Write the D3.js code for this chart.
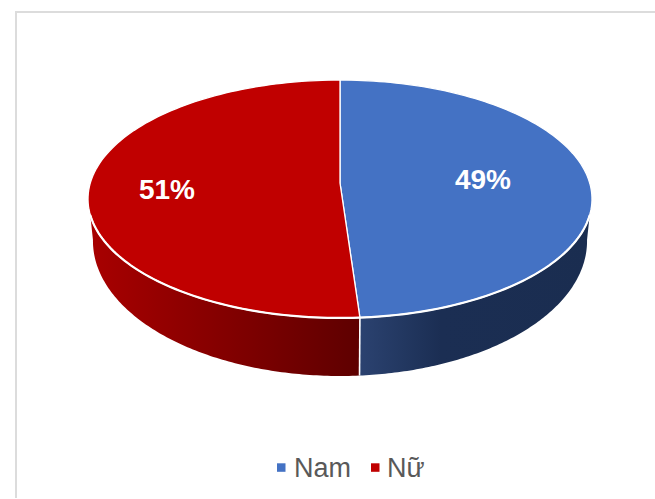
<!DOCTYPE html>
<html><head><meta charset="utf-8">
<script src="https://cdn.jsdelivr.net/npm/d3@7"></script>
<style>html,body{margin:0;padding:0;background:#fff}svg{display:block}</style>
</head><body><svg id="c" width="655" height="499"></svg>
<script>
const categories = ["Nam", "Nữ"];
const shares = [48.9, 51.1];
const topColors = ["#4472c4", "#c00000"];

const svg = d3.select("#c");
svg.append("path").attr("d","M16,498V12H655").attr("fill","none")
  .attr("stroke","#dcdcdc").attr("stroke-width",2);

const defs = svg.append("defs");
function grad(id, stops, x1, x2){
  const g = defs.append("linearGradient").attr("id",id).attr("gradientUnits","userSpaceOnUse")
    .attr("x1",x1).attr("x2",x2).attr("y1",0).attr("y2",0);
  stops.forEach(s=>g.append("stop").attr("offset",s[0]).attr("stop-color",s[1]));
}
grad("sideBlue",[[0,"#2b4270"],[0.35,"#1b2e53"],[1,"#1a2d50"]],360,592);
grad("sideRed",[[0,"#a80000"],[1,"#5e0000"]],90,360);

// projective view of the pie disc: top rim and lower rim
const cx = 340, C = 0.1345;
const rim = (A,B,D) => a => { const u=Math.sin(a), v=Math.cos(a), w=C*v+1; return [cx+D*u/w, (A*v+B)/w]; };
const rimTop = rim(-92.2,183,249.7);
const rimBot = rim(-102.5,222.9,244.8);
const hub = [cx,183];

const pie = d3.pie().sort(null).value(d=>d);
const arcs = pie(shares);
const line = d3.line();
const samples = (a0,a1,f) => d3.range(0,121).map(i=>f(a0+(a1-a0)*i/120));

// side wall: from the right silhouette round the front to the left one
const topIn = 0.267, botIn = 0.127;
const seam = arcs[0].endAngle;
function wall(t0,t1,b0,b1,fill){
  const pts = samples(t0,t1,rimTop).concat(samples(b1,b0,rimBot));
  svg.append("path").attr("d",line(pts)+"Z").attr("fill",fill);
}
wall(Math.PI/2+topIn,seam,Math.PI/2+botIn,seam,"url(#sideBlue)");
wall(seam,Math.PI*1.5-topIn,seam,Math.PI*1.5-botIn,"url(#sideRed)");
svg.append("path").attr("d",line([rimTop(seam),rimBot(seam)])).attr("stroke","#fff").attr("stroke-width",1.6).attr("fill","none");

// top face
arcs.forEach((d,i)=>{
  const pts = [hub].concat(samples(d.startAngle,d.endAngle,rimTop));
  svg.append("path").attr("d",line(pts)+"Z").attr("fill",topColors[i])
    .attr("stroke","#fff").attr("stroke-width",1.3).attr("stroke-linejoin","round");
});
// bright front edge of the disc
svg.append("path").attr("d",line(samples(Math.PI/2+topIn,Math.PI*1.5-topIn,rimTop)))
  .attr("fill","none").attr("stroke","#fff").attr("stroke-width",2.2);

// value labels
const pct = d3.format(".0%");
const labelPos = [[483,182],[167,192]];
arcs.forEach((d,i)=>{
  svg.append("text").attr("x",labelPos[i][0]).attr("y",labelPos[i][1]).attr("text-anchor","middle")
    .attr("dominant-baseline","middle").attr("fill","#fff")
    .attr("font-family","Liberation Sans, Arial, sans-serif").attr("font-weight","bold").attr("font-size",28)
    .text(pct(d.data/100));
});

// legend
const legend = [[277,294],[371,387]];
categories.forEach((c,i)=>{
  svg.append("rect").attr("x",legend[i][0]).attr("y",463.3).attr("width",8.5).attr("height",8.5).attr("fill",topColors[i]);
  svg.append("text").attr("x",legend[i][1]).attr("y",476.5).attr("fill","#595959")
    .attr("font-family","Liberation Sans, Arial, sans-serif").attr("font-size",27).text(c);
});
</script></body></html>
